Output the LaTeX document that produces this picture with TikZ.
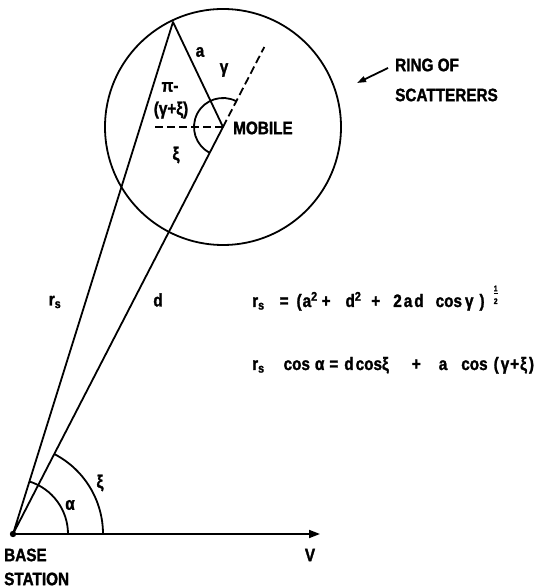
\documentclass[tikz,border=0pt]{standalone}
\usepackage{fontspec}
\setmainfont{Liberation Sans Bold}[FakeStretch=0.85,FakeBold=1.5]
\usetikzlibrary{arrows.meta}
\newcommand{\halffrac}{\raisebox{9pt}{$\frac{\mbox{\fontsize{8}{8}\selectfont 1}}{\mbox{\fontsize{8}{8}\selectfont 2}}$}}
\begin{document}
\begin{tikzpicture}[x=1pt,y=1pt,
  lbl/.style={inner sep=0pt,font=\fontsize{18}{20}\selectfont},
  geo/.style={line width=1.8pt,line join=round},
  dsh/.style={line width=1.8pt,dash pattern=on 8pt off 4pt},
  every node/.append style={inner sep=0pt}]
\useasboundingbox (0,0) rectangle (544,588);
% points
\coordinate (B) at (13,54);
\coordinate (M) at (223,461);
\coordinate (S) at (173,566);
\coordinate (E) at (264.3,541);
\coordinate (H) at (155,461);
\coordinate (T) at (320,54);
% ring
\draw[geo] (M) circle[radius=118];
% rays
\draw[geo] (B) -- (S) -- (M) -- (B);
\draw[dsh] (M) -- (E);
\draw[dsh] (H) -- (M);
\draw[geo,-{Triangle[length=11pt,width=8pt]}] (B) -- (T);
\fill (B) circle[radius=3.2];
% angle arcs
\draw[geo] ([shift={(62.7:29)}]M) arc[start angle=62.7,end angle=242.7,radius=29];
\draw[geo] ([shift={(0:55)}]B) arc[start angle=0,end angle=72.6,radius=55];
\draw[geo] ([shift={(0:90)}]B) arc[start angle=0,end angle=62.7,radius=90];
% labels
\node[lbl] (la) at (200,536) {a};
\node[lbl] (lg) at (224,518) {γ};
\node[lbl] (lpi) at (170,501) {π-};
\node[lbl] (lgx) at (171,478) {(γ+ξ)};
\node[lbl] (lxi) at (176,433) {ξ};
\node[lbl,anchor=west] (mob) at (233,460) {MOBILE};
\node[lbl] (lrs) at (55,286) {r\textsubscript{s}};
\node[lbl] (ld) at (158,288) {d};
\node[lbl,anchor=base west] (f1) at (252,281) {r\textsubscript{s}\hspace{15pt}=\hspace{8pt}(\hspace{1pt}a\textsuperscript{2}\hspace{4pt}+\hspace{15pt}d\textsuperscript{2}\hspace{10pt}+\hspace{13pt}2\hspace{2pt}a\hspace{2pt}d\hspace{12pt}cos\hspace{3pt}γ\hspace{6pt})\hspace{8pt}\halffrac};
\node[lbl,anchor=base west] (f2) at (252,218) {r\textsubscript{s}\hspace{19pt}cos\hspace{5pt}α\hspace{5pt}=\hspace{6pt}d\hspace{2pt}cos\hspace{0pt}ξ\hspace{23pt}+\hspace{18pt}a\hspace{14pt}cos\hspace{6pt}(\hspace{2pt}γ\hspace{1pt}+\hspace{1pt}ξ\hspace{2pt})};
\node[lbl,anchor=west] (ring1) at (395,523) {RING OF};
\node[lbl,anchor=west] (ring2) at (395,493) {SCATTERERS};
\coordinate (rs) at (388,520);
\coordinate (rt) at (357,505);
\draw[line width=1.8pt,-{Triangle[length=9pt,width=6pt]}] (rs) -- (rt);
\node[lbl] (lal) at (70,83) {α};
\node[lbl] (lxb) at (100,105) {ξ};
\node[lbl,anchor=west] (base) at (4,33) {BASE};
\node[lbl,anchor=west] (stat) at (4,9) {STATION};
\node[lbl] (lv) at (310,33) {V};
\end{tikzpicture}
\end{document}
